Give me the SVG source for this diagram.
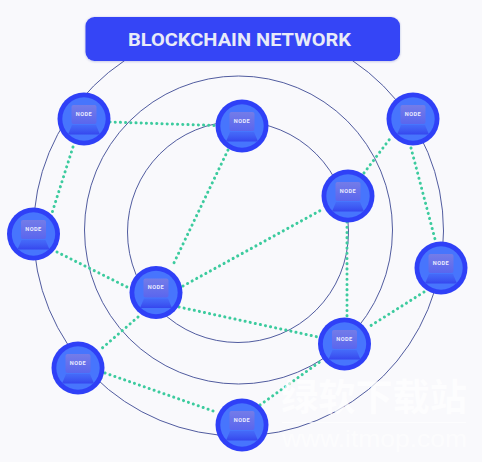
<svg xmlns="http://www.w3.org/2000/svg" width="482" height="462" viewBox="0 0 482 462">
<style>
.ring{fill:none;stroke:#3d4a94;stroke-width:.9}
.link{stroke:#3ccb9e;stroke-width:3;stroke-linecap:round;stroke-dasharray:.1 5.100;fill:none}
.o{fill:#2f40f7}.i{fill:#4775fd}
.base{fill:url(#lap)}
.n{font:700 5.600px "Roboto","Liberation Sans",sans-serif;fill:#e8eaff;text-anchor:middle;letter-spacing:.45px}
.wm{font-family:"Noto Sans CJK SC",sans-serif;font-size:37px;font-weight:700;fill:#fff;fill-opacity:.7}
</style>
<defs>
<filter id="sh" x="-5%" y="-20%" width="110%" height="140%"><feDropShadow dx="0" dy="0.500" stdDeviation="1.200" flood-color="#2030a0" flood-opacity=".3"/></filter>
<linearGradient id="lap" x1="0" y1="0" x2="0" y2="1"><stop offset="0" stop-color="#3f55f0" stop-opacity=".35"/><stop offset="1" stop-color="#3546ee"/></linearGradient>
<linearGradient id="scr" x1="0" y1="0" x2="0" y2="1"><stop offset="0" stop-color="#747ce8"/><stop offset="1" stop-color="#5a66ee"/></linearGradient>
<g id="nd">
<circle class="o" r="26.500"/><circle class="i" r="21.700"/>
<path class="base" d="M-12 6H12L16 15.500H-16Z"/>
<rect x="-12.500" y="-14" width="25" height="19" rx="2" fill="url(#scr)"/>
<text class="n" y="-3.200">NODE</text>
</g>
</defs>
<rect width="482" height="462" fill="#f9f9fc"/>
<g id="rings">
<circle class="ring" cx="238.500" cy="231" r="205"/>
<circle class="ring" cx="238.500" cy="230" r="154"/>
<circle class="ring" cx="238" cy="232" r="110.500"/>
</g>
<g id="connectors">
<path class="link" d="M110 122L216 125.500"/>
<path class="link" d="M73 147L52 213"/>
<path class="link" d="M57 252L129 288"/>
<path class="link" d="M228 150L172 267"/>
<path class="link" d="M183 286L323 209"/>
<path class="link" d="M179 307L318 337"/>
<path class="link" d="M138 317L100 350"/>
<path class="link" d="M105 373L216 412"/>
<path class="link" d="M260 405L321 361"/>
<path class="link" d="M347 222L347 316"/>
<path class="link" d="M364 173L392 136"/>
<path class="link" d="M411 148L436 243"/>
<path class="link" d="M424 292L367 328"/>
</g>
<g id="title">
<rect x="85.500" y="17" width="314.500" height="44" rx="9" fill="#3644f6" filter="url(#sh)"/>
<text x="128" y="46" font-family="Roboto,'Liberation Sans',sans-serif" font-size="18.500" font-weight="700" fill="#e8ebf8" textLength="223" lengthAdjust="spacingAndGlyphs">BLOCKCHAIN NETWORK</text>
</g>
<g id="node-1"><use href="#nd" x="84" y="119"/></g>
<g id="node-2"><use href="#nd" x="242" y="126"/></g>
<g id="node-3"><use href="#nd" x="413" y="119"/></g>
<g id="node-4"><use href="#nd" x="348" y="196"/></g>
<g id="node-5"><use href="#nd" x="33.500" y="234"/></g>
<g id="node-6"><use href="#nd" x="441" y="268"/></g>
<g id="node-7"><use href="#nd" x="156" y="292.500"/></g>
<g id="node-8"><use href="#nd" x="344.500" y="344"/></g>
<g id="node-9"><use href="#nd" x="78" y="368"/></g>
<g id="node-10"><use href="#nd" x="242" y="425"/></g>
<g id="watermark">
<text class="wm" x="281" y="411" textLength="186" lengthAdjust="spacingAndGlyphs">绿软下载站</text>
<rect x="282" y="422" width="184" height="1" fill="#fff" fill-opacity=".7"/>
<text x="282" y="447" font-family="Liberation Sans,sans-serif" font-size="24" fill="#fff" fill-opacity=".6" textLength="185" lengthAdjust="spacingAndGlyphs">www.itmop.com</text>
</g>
</svg>
